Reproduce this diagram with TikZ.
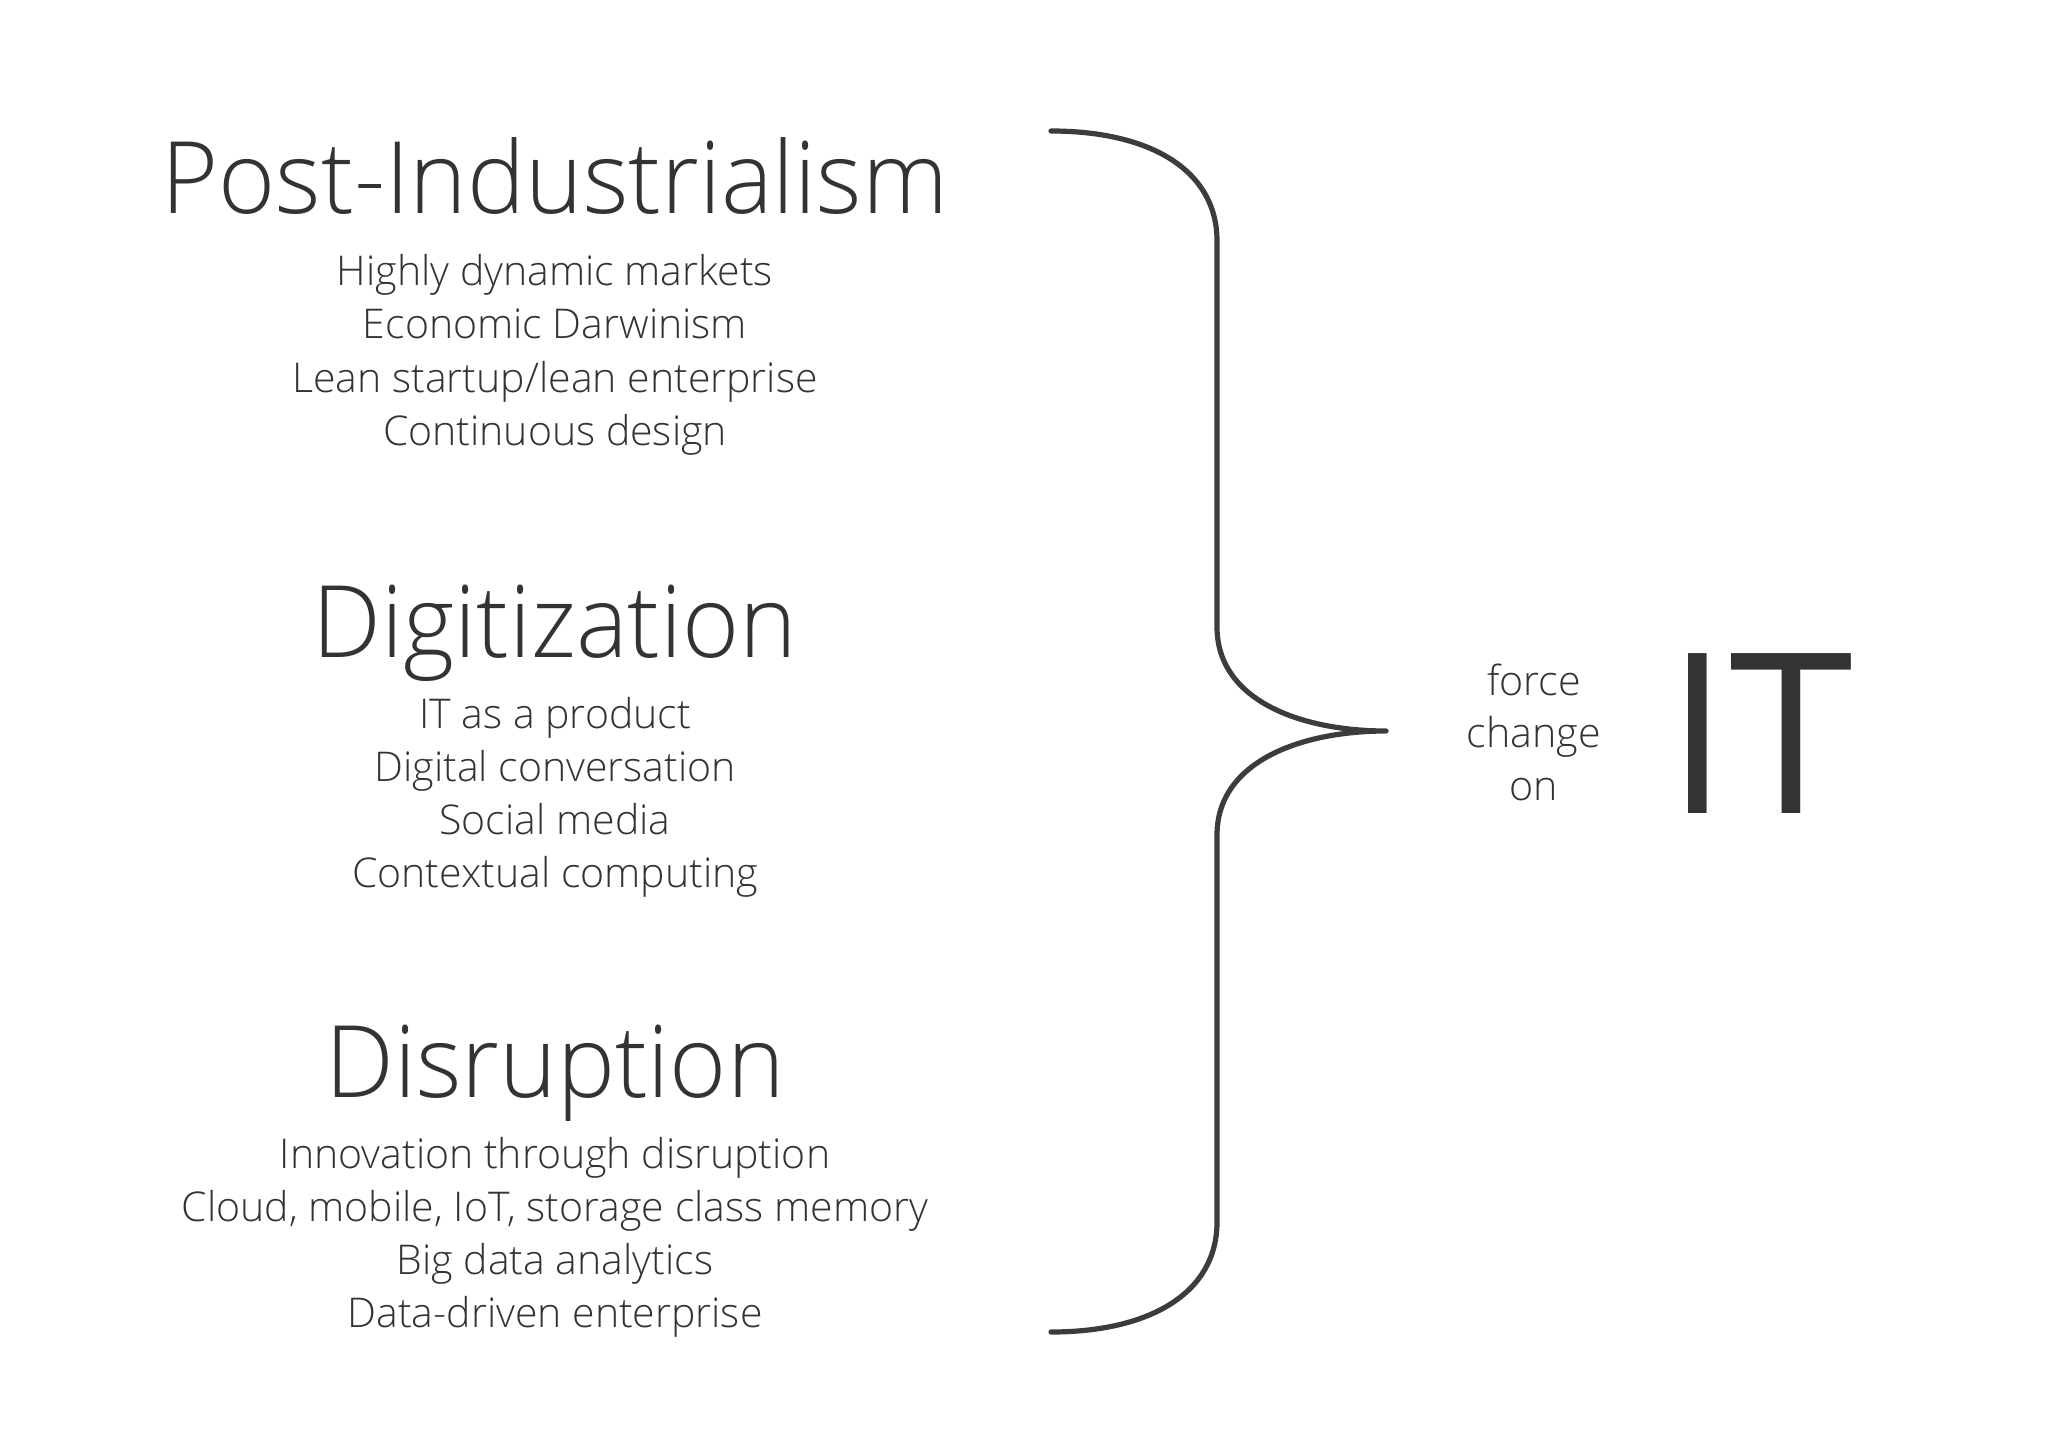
\documentclass[tikz,border=0pt]{standalone}
\usepackage{fontspec}
\setmainfont{Open Sans}[UprightFont={* Light}]
\newfontfamily\regfont{Open Sans}
\definecolor{txt}{HTML}{333333}
\definecolor{brc}{HTML}{3C3C3C}
\begin{document}
\begin{tikzpicture}[x=0.5pt,y=-0.5pt,
  title/.style={font=\fontsize{50}{50}\selectfont, anchor=base, text=txt, inner sep=0pt, xscale=0.975},
  item/.style={font=\fontsize{20.5}{20.5}\selectfont, anchor=base, text=txt, inner sep=0pt},
  side/.style={font=\fontsize{20.6}{20.6}\selectfont, anchor=base, text=txt, inner sep=0pt},
  big/.style={font=\regfont\fontsize{112}{112}\selectfont, anchor=base, text=txt, inner sep=0pt}]
\fill[white] (0,0) rectangle (2048,1449);
\useasboundingbox (0,0) rectangle (2048,1449);
% Post-Industrialism
\node[title] (t1) at (555,214) {Post-Industrialism};
\node[item] (a1) at (555,286) {Highly dynamic markets};
\node[item] (a2) at (555,339) {Economic Darwinism};
\node[item] (a3) at (555,392) {Lean startup/lean enterprise};
\node[item] (a4) at (555,445) {Continuous design};
% Digitization
\node[title] (t2) at (555,657) {Digitization};
\node[item] (b1) at (555,728) {IT as a product};
\node[item] (b2) at (555,781) {Digital conversation};
\node[item] (b3) at (555,834) {Social media};
\node[item] (b4) at (555,887) {Contextual computing};
% Disruption
\node[title] (t3) at (555,1097) {Disruption};
\node[item] (c1) at (555,1168) {Innovation through disruption};
\node[item] (c2) at (555,1221) {Cloud, mobile, IoT, storage class memory};
\node[item] (c3) at (555,1274) {Big data analytics};
\node[item] (c4) at (555,1327) {Data-driven enterprise};
% right side
\node[side] (f1) at (1534,695) {force};
\node[side] (f2) at (1534,747) {change};
\node[side] (f3) at (1534,800) {on};
\node[big] (it) at (1760,813) {IT};
% brace
\draw[brc, line width=2.6pt, line cap=round, line join=round]
  (1051,131) .. controls (1150,131) and (1217,170) .. (1217,241)
  -- (1217,627)
  .. controls (1217,700) and (1300,731) .. (1386,731)
  .. controls (1300,731) and (1217,762) .. (1217,835)
  -- (1217,1222)
  .. controls (1217,1293) and (1150,1332) .. (1051,1332);
\end{tikzpicture}
\end{document}
